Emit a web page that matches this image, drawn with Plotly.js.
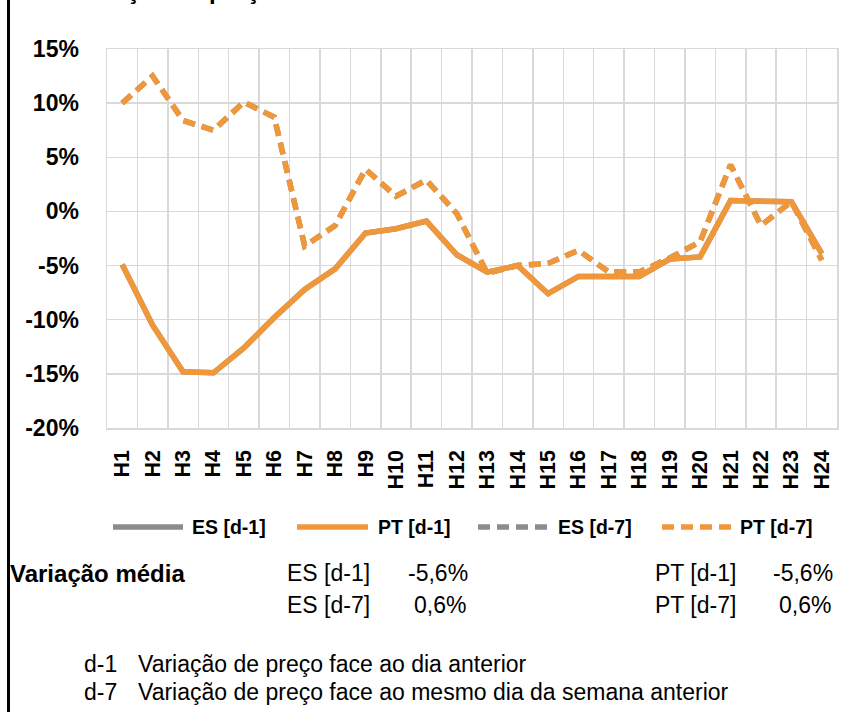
<!DOCTYPE html>
<html>
<head>
<meta charset="utf-8">
<script src="https://cdn.plot.ly/plotly-3.0.1.min.js"></script>
<style>
html,body{margin:0;padding:0;background:#fff;}
#chart{width:863px;height:712px;}
</style>
</head>
<body>
<div id="chart"></div>
<script>
// ---- data ----
const hours = ["H1","H2","H3","H4","H5","H6","H7","H8","H9","H10","H11","H12",
               "H13","H14","H15","H16","H17","H18","H19","H20","H21","H22","H23","H24"];
const es_d1 = [-4.9,-10.5,-14.8,-14.9,-12.6,-9.8,-7.2,-5.3,-2.0,-1.6,-0.9,-4.0,
               -5.6,-5.0,-7.6,-6.0,-6.0,-6.0,-4.4,-4.2,1.0,1.0,0.9,-3.9];
const pt_d1 = [-4.9,-10.5,-14.8,-14.9,-12.6,-9.8,-7.2,-5.3,-2.0,-1.6,-0.9,-4.0,
               -5.6,-5.0,-7.6,-6.0,-6.0,-6.0,-4.4,-4.2,1.0,1.0,0.9,-3.9];
const es_d7 = [10.0,12.5,8.4,7.5,10.1,8.7,-3.2,-1.3,3.9,1.4,2.9,-0.2,
               -5.7,-5.0,-4.8,-3.6,-5.6,-5.6,-4.3,-2.8,4.3,-1.3,0.9,-4.5];
const pt_d7 = [10.0,12.5,8.4,7.5,10.1,8.7,-3.2,-1.3,3.9,1.4,2.9,-0.2,
               -5.7,-5.0,-4.8,-3.6,-5.6,-5.6,-4.3,-2.8,4.3,-1.3,0.9,-4.5];
const seriesNames = ["ES [d-1]","PT [d-1]","ES [d-7]","PT [d-7]"];
const avgLabels = ["ES [d-1]","ES [d-7]","PT [d-1]","PT [d-7]"];
const avgValues = ["-5,6%","0,6%","-5,6%","0,6%"];
const yTickVals = [-20,-15,-10,-5,0,5,10,15];
const yTickText = ["-20%","-15%","-10%","-5%","0%","5%","10%","15%"];
const titleText = "Variação de preço";
const noteKeys = ["d-1","d-7"];
const noteTexts = ["Variação de preço face ao dia anterior",
                   "Variação de preço face ao mesmo dia da semana anterior"];

// ---- styling ----
const ORANGE = "#F0973A";
const GREY = "#8C8C8C";
const FONT = "Liberation Sans, Arial, sans-serif";
const DASH = "12px,7px";
const LW = 5.5;

// plot area in pixels: x 107..837, y 49..428
const L = 107, R = 837, T = 49, B = 428;
const X = px => (px - L) / (R - L);
const Y = py => (B - py) / (B - T);

const traces = [
  {x: hours, y: es_d1, name: seriesNames[0], type: "scatter", mode: "lines",
   line: {color: GREY, width: LW}},
  {x: hours, y: es_d7, name: seriesNames[2], type: "scatter", mode: "lines",
   line: {color: GREY, width: LW, dash: DASH}},
  {x: hours, y: pt_d1, name: seriesNames[1], type: "scatter", mode: "lines",
   line: {color: ORANGE, width: LW}},
  {x: hours, y: pt_d7, name: seriesNames[3], type: "scatter", mode: "lines",
   line: {color: ORANGE, width: LW, dash: DASH}}
];

const shapes = [];
const annotations = [];

// left chart-area border
shapes.push({type: "line", xref: "paper", yref: "paper",
  x0: X(8.5), x1: X(8.5), y0: Y(-5), y1: Y(720), line: {color: "#000", width: 3}});

// title, cut by the top edge as in the reference
annotations.push({xref: "paper", yref: "paper", x: X(67), y: Y(6),
  xanchor: "left", yanchor: "bottom", showarrow: false, text: "<b>" + titleText + "</b>",
  font: {family: FONT, size: 24, color: "#000"}});

// custom legend
const legItems = [
  {name: seriesNames[0], color: GREY, dash: "solid", x0: 113, x1: 183, tx: 190},
  {name: seriesNames[1], color: ORANGE, dash: "solid", x0: 297, x1: 368, tx: 376},
  {name: seriesNames[2], color: GREY, dash: DASH, x0: 478, x1: 548, tx: 556},
  {name: seriesNames[3], color: ORANGE, dash: DASH, x0: 662, x1: 732, tx: 738}
];
const legY = 527;
legItems.forEach(it => {
  shapes.push({type: "line", xref: "paper", yref: "paper",
    x0: X(it.x0), x1: X(it.x1), y0: Y(legY), y1: Y(legY),
    line: {color: it.color, width: LW, dash: it.dash}});
  annotations.push({xref: "paper", yref: "paper", x: X(it.tx), y: Y(legY),
    xanchor: "left", yanchor: "middle", showarrow: false, text: "<b>" + it.name + "</b>",
    font: {family: FONT, size: 19.5, color: "#000"}});
});

// "Variação média" block
const row1 = 573, row2 = 605;
annotations.push({xref: "paper", yref: "paper", x: X(8), y: Y(row1),
  xanchor: "left", yanchor: "middle", showarrow: false, text: "<b>Variação média</b>",
  font: {family: FONT, size: 24, color: "#000"}});
const avgPos = [
  {lx: 285, vx: 470, py: row1}, {lx: 285, vx: 468, py: row2},
  {lx: 653, vx: 835, py: row1}, {lx: 653, vx: 833, py: row2}
];
avgPos.forEach((p, i) => {
  annotations.push({xref: "paper", yref: "paper", x: X(p.lx), y: Y(p.py),
    xanchor: "left", yanchor: "middle", showarrow: false, text: avgLabels[i],
    font: {family: FONT, size: 23, color: "#000"}});
  annotations.push({xref: "paper", yref: "paper", x: X(p.vx), y: Y(p.py),
    xanchor: "right", yanchor: "middle", showarrow: false, text: avgValues[i],
    font: {family: FONT, size: 23, color: "#000"}});
});

// notes
const noteY = [664, 692];
noteKeys.forEach((k, i) => {
  annotations.push({xref: "paper", yref: "paper", x: X(82), y: Y(noteY[i]),
    xanchor: "left", yanchor: "middle", showarrow: false, text: k,
    font: {family: FONT, size: 23, color: "#000"}});
  annotations.push({xref: "paper", yref: "paper", x: X(136), y: Y(noteY[i]),
    xanchor: "left", yanchor: "middle", showarrow: false, text: noteTexts[i],
    font: {family: FONT, size: 23, color: "#000"}});
});

const layout = {
  width: 863, height: 712,
  margin: {l: L, r: 863 - R, t: T, b: 712 - B, pad: 0},
  paper_bgcolor: "#fff", plot_bgcolor: "#fff",
  showlegend: false,
  font: {family: FONT, color: "#000"},
  xaxis: {
    type: "category", categoryorder: "array", categoryarray: hours,
    range: [-0.5, 23.5], tickson: "boundaries",
    showgrid: true, gridcolor: "#D9D9D9", gridwidth: 1.5,
    showline: true, linecolor: "#D9D9D9", linewidth: 1.5, mirror: true,
    ticks: "", tickangle: -90, ticklabelstandoff: 12,
    tickfont: {family: FONT, size: 21.5, color: "#000", weight: "bold"},
    zeroline: false, fixedrange: true
  },
  yaxis: {
    range: [-20, 15], tickvals: yTickVals, ticktext: yTickText,
    showgrid: true, gridcolor: "#D9D9D9", gridwidth: 1.5,
    showline: true, linecolor: "#D9D9D9", linewidth: 1.5, mirror: true,
    zeroline: false, ticks: "", ticklabelstandoff: 22,
    tickfont: {family: FONT, size: 23, color: "#000", weight: "bold"},
    fixedrange: true
  },
  shapes: shapes,
  annotations: annotations
};

Plotly.newPlot("chart", traces, layout, {displayModeBar: false, staticPlot: true});
</script>
</body>
</html>
